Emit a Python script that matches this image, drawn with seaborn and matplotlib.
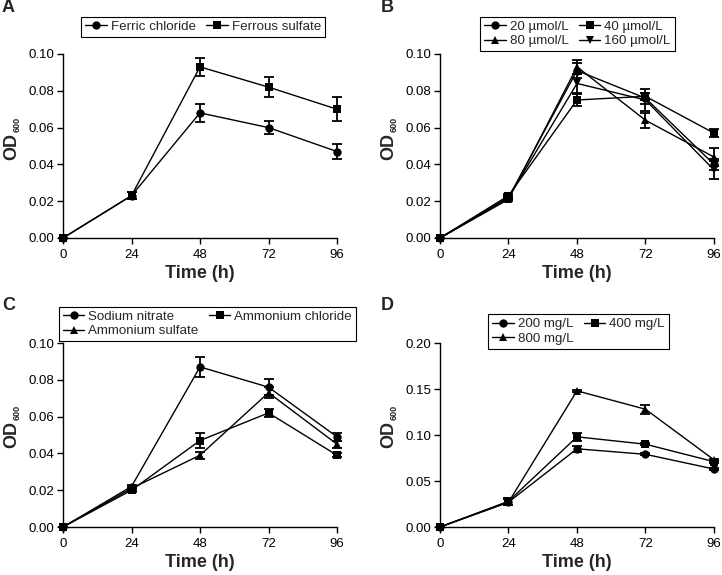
import numpy as np
import pandas as pd
import seaborn as sns
import matplotlib.pyplot as plt

# time points (h)
time = [0, 24, 48, 72, 96]

# A - iron source
iron_names = ['Ferric chloride', 'Ferrous sulfate']
ferric_chloride = [0.0, 0.023, 0.068, 0.060, 0.047]
ferric_chloride_err = [0.0, 0.002, 0.005, 0.0035, 0.004]
ferrous_sulfate = [0.0, 0.023, 0.093, 0.082, 0.070]
ferrous_sulfate_err = [0.0, 0.002, 0.005, 0.0055, 0.0065]

# B - iron concentration
conc_names = ['20 µmol/L', '40 µmol/L', '80 µmol/L', '160 µmol/L']
c20 = [0.0, 0.022, 0.091, 0.076, 0.040]
c20_err = [0.0, 0.001, 0.004, 0.003, 0.003]
c40 = [0.0, 0.023, 0.075, 0.077, 0.057]
c40_err = [0.0, 0.001, 0.003, 0.002, 0.002]
c80 = [0.0, 0.021, 0.093, 0.064, 0.044]
c80_err = [0.0, 0.001, 0.004, 0.004, 0.005]
c160 = [0.0, 0.022, 0.084, 0.075, 0.037]
c160_err = [0.0, 0.001, 0.005, 0.006, 0.005]

# C - nitrogen source
nitro_names = ['Sodium nitrate', 'Ammonium chloride', 'Ammonium sulfate']
sodium_nitrate = [0.0, 0.022, 0.087, 0.076, 0.049]
sodium_nitrate_err = [0.0, 0.001, 0.0055, 0.0045, 0.002]
amm_chloride = [0.0, 0.020, 0.047, 0.062, 0.039]
amm_chloride_err = [0.0, 0.001, 0.004, 0.002, 0.001]
amm_sulfate = [0.0, 0.021, 0.039, 0.073, 0.045]
amm_sulfate_err = [0.0, 0.001, 0.002, 0.003, 0.002]

# D - nitrogen concentration
mg_names = ['200 mg/L', '400 mg/L', '800 mg/L']
mg200 = [0.0, 0.027, 0.085, 0.079, 0.063]
mg200_err = [0.0, 0.003, 0.003, 0.001, 0.001]
mg400 = [0.0, 0.028, 0.098, 0.090, 0.071]
mg400_err = [0.0, 0.004, 0.004, 0.001, 0.001]
mg800 = [0.0, 0.027, 0.148, 0.128, 0.073]
mg800_err = [0.0, 0.003, 0.001, 0.005, 0.001]

sns.set_style('ticks')
plt.rcParams['font.family'] = ['Liberation Sans', 'DejaVu Sans']

fig = plt.figure(figsize=(7.22, 5.75), dpi=100)

W, H = 722, 575
def px_axes(x0, x1, ytop, ybot):
    return fig.add_axes([x0 / W, 1 - ybot / H, (x1 - x0) / W, (ybot - ytop) / H])

panels = [
    dict(ax=px_axes(63, 337, 54, 238), letter='A', ymax=0.10, yticks=np.arange(0, 0.101, 0.02),
         names=iron_names, ys=[ferric_chloride, ferrous_sulfate], es=[ferric_chloride_err, ferrous_sulfate_err],
         markers=['o', 's'], leg=(80, 14, 326, 40)),
    dict(ax=px_axes(440, 714, 54, 238), letter='B', ymax=0.10, yticks=np.arange(0, 0.101, 0.02),
         names=conc_names, ys=[c20, c40, c80, c160], es=[c20_err, c40_err, c80_err, c160_err],
         markers=['o', 's', '^', 'v'], leg=(481, 14, 674, 54)),
    dict(ax=px_axes(63, 337, 343, 527), letter='C', ymax=0.10, yticks=np.arange(0, 0.101, 0.02),
         names=nitro_names, ys=[sodium_nitrate, amm_chloride, amm_sulfate],
         es=[sodium_nitrate_err, amm_chloride_err, amm_sulfate_err],
         markers=['o', 's', '^'], leg=(70, 298, 345, 350)),
    dict(ax=px_axes(440, 714, 343, 527), letter='D', ymax=0.20, yticks=np.arange(0, 0.201, 0.05),
         names=mg_names, ys=[mg200, mg400, mg800], es=[mg200_err, mg400_err, mg800_err],
         markers=['o', 's', '^'], leg=(485, 313, 672, 350)),
]

letter_pos = {'A': (2, 8), 'B': (381, 8), 'C': (2, 305), 'D': (381, 305)}

for p in panels:
    ax = p['ax']
    rows = []
    for name, y in zip(p['names'], p['ys']):
        for t, v in zip(time, y):
            rows.append({'Time': t, 'OD': v, 'group': name})
    df = pd.DataFrame(rows)
    sns.lineplot(data=df, x='Time', y='OD', hue='group', style='group', hue_order=p['names'],
                 style_order=p['names'], palette=['black'] * len(p['names']), markers=p['markers'],
                 dashes=False, markersize=6, linewidth=1.0, markeredgewidth=0, ax=ax, clip_on=False,
                 errorbar=None, zorder=3)
    for y, e in zip(p['ys'], p['es']):
        ax.errorbar(time, y, yerr=e, fmt='none', ecolor='black', elinewidth=1.3, capsize=3.5,
                    capthick=1.3, clip_on=False, zorder=4)
    ax.set_xlim(0, 96)
    ax.set_ylim(0, p['ymax'])
    ax.set_xticks(time)
    ax.set_yticks(p['yticks'])
    ax.set_yticklabels(['{:.2f}'.format(v) for v in p['yticks']])
    ax.tick_params(labelsize=9.5, width=1.0, length=4, color='black', labelcolor='black')
    ax.tick_params(axis='x', pad=4)
    ax.tick_params(axis='y', pad=2)
    for s in ['left', 'bottom']:
        ax.spines[s].set_linewidth(1.0)
        ax.spines[s].set_color('black')
    sns.despine(ax=ax)
    ax.set_xlabel('Time (h)', fontsize=13, fontweight='bold', labelpad=3)
    ax.set_ylabel('OD', fontsize=13, fontweight='bold', labelpad=6)

    # legend filled row by row, like the original
    h, l = ax.get_legend_handles_labels()
    n = len(h)
    order = list(range(0, n, 2)) + list(range(1, n, 2))
    h = [h[i] for i in order]
    l = [l[i] for i in order]
    x0, y0, x1, y1 = p['leg']
    leg = ax.legend(h, l, ncol=2, fontsize=9.6, frameon=True, fancybox=False, edgecolor='black',
                    framealpha=1, handlelength=1.6, handletextpad=0.3, columnspacing=0.8, borderpad=0.3,
                    labelspacing=0.15, loc='center', bbox_to_anchor=((x0 + x1) / 2 / W, 1 - (y0 + y1) / 2 / H),
                    bbox_transform=fig.transFigure)
    leg.get_frame().set_linewidth(0.8)
    lx, ly = letter_pos[p['letter']]
    fig.text(lx / W, 1 - ly / H, p['letter'], fontsize=13, fontweight='bold', va='center', ha='left')

# small "600" subscript next to each OD label
fig.canvas.draw()
for p in panels:
    bb = p['ax'].yaxis.label.get_window_extent()
    fig.text((bb.x1 + 1) / W, (bb.y1 + 1) / H, '600', fontsize=6.5, fontweight='bold', rotation=90,
             ha='right', va='bottom')

fig.savefig('out.png', dpi=100)
